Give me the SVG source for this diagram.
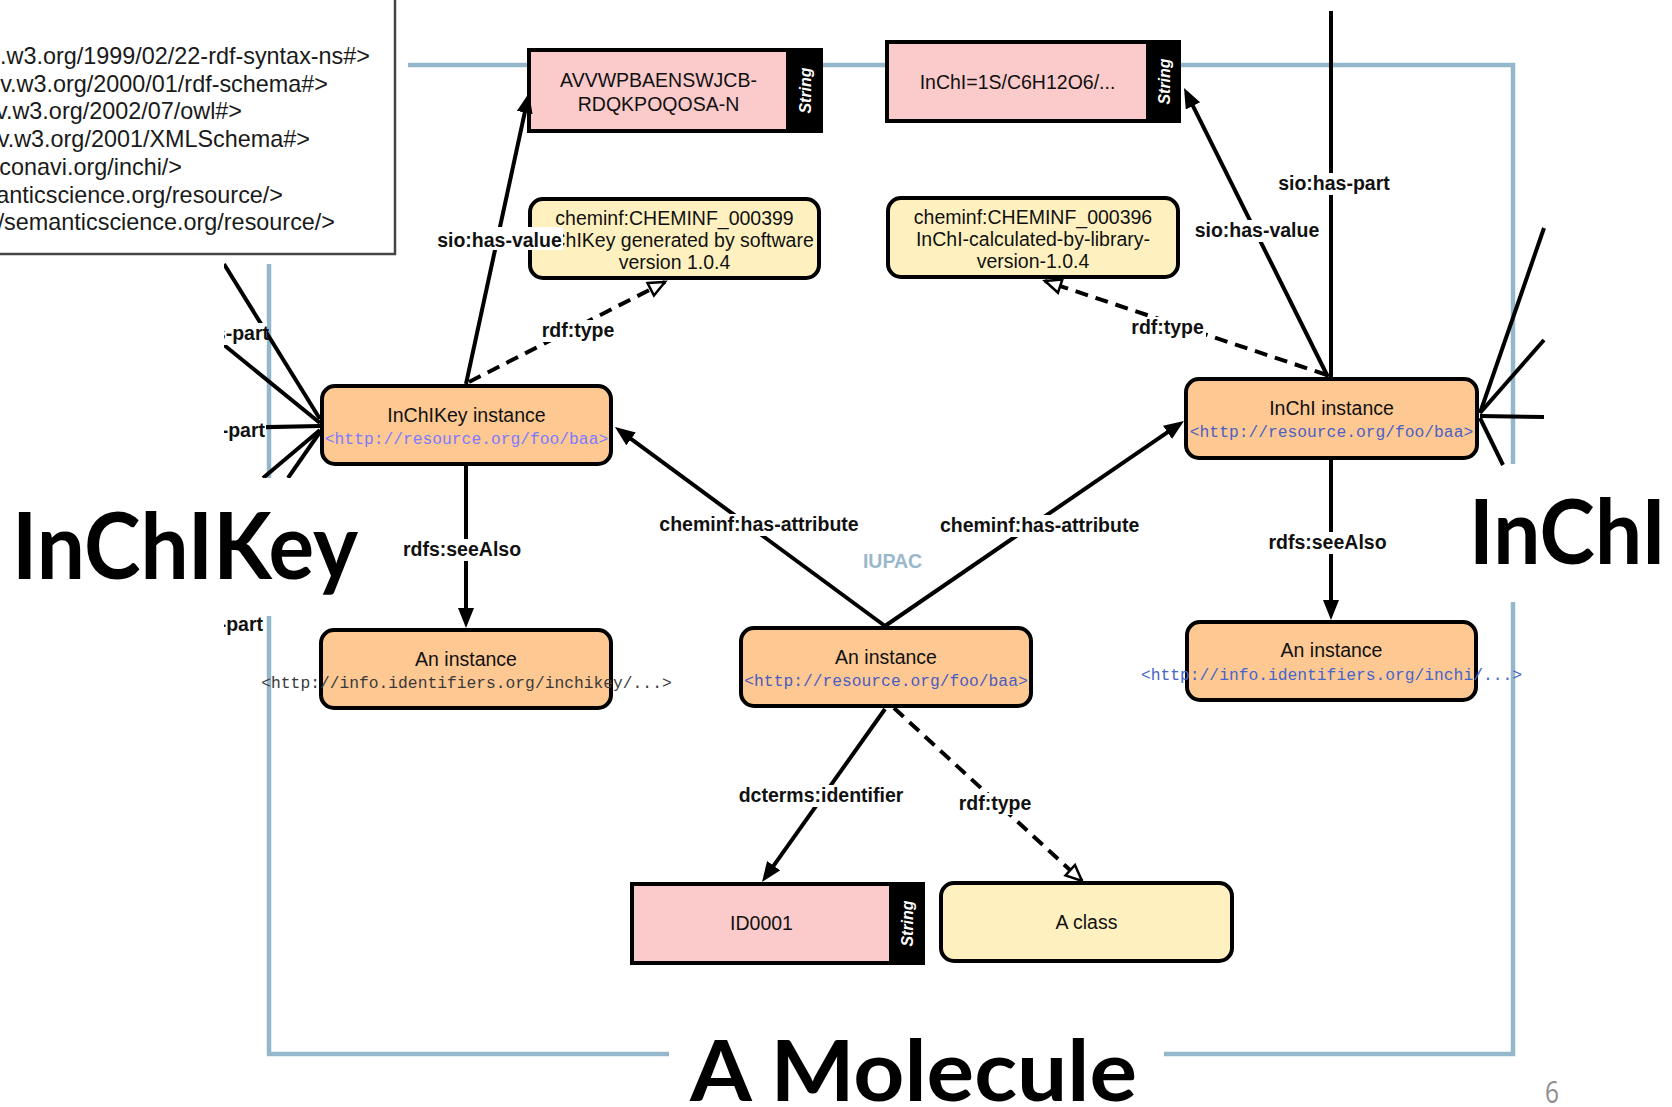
<svg xmlns="http://www.w3.org/2000/svg" width="1672" height="1107" viewBox="0 0 1672 1107">
<style>
.frame{stroke:#95b7cc;stroke-width:4.5;fill:none}
.conn{stroke:#000;stroke-width:4;fill:none}
.dash{stroke-dasharray:13 8}
.inst{fill:#fec892;stroke:#000;stroke-width:4}
.cls{fill:#fff1bf;stroke:#000;stroke-width:4}
.str{fill:#fbcaca}
.tab{font:italic bold 16px "Liberation Sans",Arial,sans-serif;fill:#fff;text-anchor:middle}
.ttl{font:19.5px "Liberation Sans",Arial,sans-serif;fill:#111;text-anchor:middle}
.url{font:16.3px "Liberation Mono","Courier New",monospace;text-anchor:middle}
.lbl{font:bold 19.5px "Liberation Sans",Arial,sans-serif;fill:#111;text-anchor:middle}
.lbg{fill:#fff}
.ns{font:23.4px "Liberation Sans",Arial,sans-serif;fill:#1a1a1a;text-anchor:end}
.big{font-family:Lato,"Open Sans",sans-serif;font-weight:bold;fill:#000}
</style>
<defs>
<marker id="ah" markerUnits="userSpaceOnUse" viewBox="0 0 22 18" markerWidth="22" markerHeight="18" refX="14" refY="8" orient="auto"><path d="M0,0 L20,8 L0,16 z" fill="#000"/></marker>
<marker id="oh" markerUnits="userSpaceOnUse" viewBox="-3 -3 22 20" markerWidth="22" markerHeight="20" refX="16" refY="7" orient="auto"><path d="M0,0 L16,7 L0,14 z" fill="#fff" stroke="#000" stroke-width="2.5"/></marker>
<clipPath id="leftclip"><rect x="224" y="262" width="200" height="216"/><rect x="224" y="600" width="100" height="50"/></clipPath>
</defs>
<rect width="1672" height="1107" fill="#fff"/>

<g id="frame">
<path class="frame" d="M408,65 H1513 V464"/>
<path class="frame" d="M1513,602 V1054 H1164"/>
<path class="frame" d="M669,1054 H269 V616"/>
<path class="frame" d="M269,478 V264"/>
</g>

<g id="titles">
<text class="big" x="12" y="579" font-size="92" textLength="346" lengthAdjust="spacingAndGlyphs">InChIKey</text>
<text class="big" x="1469" y="564" font-size="89" textLength="197" lengthAdjust="spacingAndGlyphs">InChI</text>
<text class="big" x="690" y="1101" font-size="84" textLength="447" lengthAdjust="spacingAndGlyphs">A Molecule</text>
<text x="1545" y="1103" font-family="'Open Sans','Liberation Sans',sans-serif" font-size="31" fill="#8f8f8f" textLength="14" lengthAdjust="spacingAndGlyphs">6</text>
</g>

<g id="namespaces">
<rect x="-3" y="-3" width="398" height="257" fill="#fff" stroke="#444" stroke-width="2.5"/>
<text class="ns" x="370" y="64">.w3.org/1999/02/22-rdf-syntax-ns#&gt;</text>
<text class="ns" x="328" y="91.7">v.w3.org/2000/01/rdf-schema#&gt;</text>
<text class="ns" x="242" y="119.4">v.w3.org/2002/07/owl#&gt;</text>
<text class="ns" x="310" y="147.1">v.w3.org/2001/XMLSchema#&gt;</text>
<text class="ns" x="182" y="174.8">conavi.org/inchi/&gt;</text>
<text class="ns" x="283" y="202.5">anticscience.org/resource/&gt;</text>
<text class="ns" x="335" y="230.2">/semanticscience.org/resource/&gt;</text>
</g>

<g id="n-avvw">
<rect x="527" y="48" width="296" height="85" fill="#000"/>
<rect class="str" x="531" y="52" width="255" height="77"/>
<text class="ttl" x="658.5" y="87">AVVWPBAENSWJCB-</text>
<text class="ttl" x="658.5" y="110.5">RDQKPOQOSA-N</text>
<text class="tab" transform="translate(810.5,90.5) rotate(-90)">String</text>
</g>
<g id="n-inchistr">
<rect x="885" y="40" width="296" height="83" fill="#000"/>
<rect class="str" x="889" y="44" width="257" height="75"/>
<text class="ttl" x="1017.5" y="89">InChI=1S/C6H12O6/...</text>
<text class="tab" transform="translate(1169.5,81.5) rotate(-90)">String</text>
</g>
<g id="n-cheminf399">
<rect class="cls" x="530" y="199" width="289" height="79" rx="13"/>
<text class="ttl" x="674.5" y="225">cheminf:CHEMINF_000399</text>
<text class="ttl" x="674.5" y="247">InChIKey generated by software</text>
<text class="ttl" x="674.5" y="269">version 1.0.4</text>
</g>
<g id="n-cheminf396">
<rect class="cls" x="888" y="198" width="290" height="79" rx="13"/>
<text class="ttl" x="1033" y="224">cheminf:CHEMINF_000396</text>
<text class="ttl" x="1033" y="246">InChI-calculated-by-library-</text>
<text class="ttl" x="1033" y="268">version-1.0.4</text>
</g>
<g id="n-inchikey-inst">
<rect class="inst" x="322" y="386" width="289" height="78" rx="13"/>
<text class="ttl" x="466.5" y="422">InChIKey instance</text>
<text class="url" x="466.5" y="444" fill="#7b7bff">&lt;http://resource.org/foo/baa&gt;</text>
</g>
<g id="n-inchi-inst">
<rect class="inst" x="1186" y="379" width="291" height="79" rx="13"/>
<text class="ttl" x="1331.5" y="415">InChI instance</text>
<text class="url" x="1331.5" y="437" fill="#4b60c4">&lt;http://resource.org/foo/baa&gt;</text>
</g>
<g id="n-left-inst">
<rect class="inst" x="321" y="630" width="290" height="78" rx="13"/>
<text class="ttl" x="466" y="666">An instance</text>
<text class="url" x="466.5" y="688" fill="#3a3a3a">&lt;http://info.identifiers.org/inchikey/...&gt;</text>
</g>
<g id="n-center-inst">
<rect class="inst" x="741" y="628" width="290" height="78" rx="13"/>
<text class="ttl" x="886" y="664">An instance</text>
<text class="url" x="886" y="686" fill="#4a5cc0">&lt;http://resource.org/foo/baa&gt;</text>
</g>
<g id="n-right-inst">
<rect class="inst" x="1187" y="622" width="289" height="78" rx="13"/>
<text class="ttl" x="1331.5" y="657">An instance</text>
<text class="url" x="1331.5" y="680" fill="#4466cc">&lt;http://info.identifiers.org/inchi/...&gt;</text>
</g>
<g id="n-id0001">
<rect x="630" y="882" width="295" height="83" fill="#000"/>
<rect class="str" x="634" y="886" width="255" height="75"/>
<text class="ttl" x="761.5" y="930">ID0001</text>
<text class="tab" transform="translate(913,923.5) rotate(-90)">String</text>
</g>
<g id="n-aclass">
<rect class="cls" x="941" y="883" width="291" height="78" rx="13"/>
<text class="ttl" x="1086.5" y="929">A class</text>
</g>

<g id="connectors">
<g clip-path="url(#leftclip)">
<line class="conn" x1="224" y1="264" x2="320" y2="419"/>
<line class="conn" x1="224" y1="345" x2="320" y2="423"/>
<line class="conn" x1="224" y1="428" x2="320" y2="426"/>
<line class="conn" x1="320" y1="430" x2="263" y2="478"/>
<line class="conn" x1="320" y1="432" x2="288" y2="478"/>
<rect class="lbg" x="224" y="323" width="43" height="22"/>
<text class="lbl" x="269" y="340" style="text-anchor:end">s-part</text>
<rect class="lbg" x="224" y="419" width="42" height="22"/>
<text class="lbl" x="265" y="437" style="text-anchor:end">-part</text>
<text class="lbl" x="263" y="631" style="text-anchor:end">-part</text>
</g>
<line class="conn" x1="1480" y1="413" x2="1544" y2="228"/>
<line class="conn" x1="1480" y1="413" x2="1544" y2="340"/>
<line class="conn" x1="1480" y1="416" x2="1544" y2="417"/>
<line class="conn" x1="1480" y1="418" x2="1503" y2="465"/>

<line class="conn" x1="1331" y1="11" x2="1331" y2="377"/>
<line class="conn" x1="1328" y1="377" x2="1186.7" y2="93.4" marker-end="url(#ah)"/>
<line class="conn dash" x1="1327" y1="375" x2="1045" y2="281" marker-end="url(#oh)"/>
<line class="conn" x1="466" y1="384" x2="527.7" y2="98.9" marker-end="url(#ah)"/>
<line class="conn dash" x1="469" y1="382" x2="665" y2="282" marker-end="url(#oh)"/>
<line class="conn" x1="885" y1="626" x2="619.8" y2="430.6" marker-end="url(#ah)"/>
<line class="conn" x1="885" y1="626" x2="1179" y2="424.4" marker-end="url(#ah)"/>
<line class="conn" x1="466" y1="466" x2="466" y2="622" marker-end="url(#ah)"/>
<line class="conn" x1="1331" y1="460" x2="1331" y2="614" marker-end="url(#ah)"/>
<line class="conn" x1="885" y1="709" x2="765.5" y2="877.1" marker-end="url(#ah)"/>
<line class="conn dash" x1="894" y1="708" x2="1082" y2="881" marker-end="url(#oh)"/>

<rect class="lbg" x="1277" y="173" width="114" height="22"/>
<text class="lbl" x="1334" y="190">sio:has-part</text>
<rect class="lbg" x="1194" y="220" width="127" height="22"/>
<text class="lbl" x="1257" y="237">sio:has-value</text>
<rect class="lbg" x="1129" y="317" width="77" height="22"/>
<text class="lbl" x="1167.6" y="334">rdf:type</text>
<rect class="lbg" x="436" y="227" width="127" height="23"/>
<text class="lbl" x="499.5" y="247">sio:has-value</text>
<rect class="lbg" x="540" y="320" width="76" height="22"/>
<text class="lbl" x="578" y="337">rdf:type</text>
<rect class="lbg" x="658" y="514" width="202" height="22"/>
<text class="lbl" x="759" y="531">cheminf:has-attribute</text>
<rect class="lbg" x="938" y="515" width="203" height="22"/>
<text class="lbl" x="1039.6" y="532">cheminf:has-attribute</text>
<text class="lbl" x="892.5" y="568" style="fill:#9ab8cc" font-size="19">IUPAC</text>
<rect class="lbg" x="402" y="539" width="120" height="22"/>
<text class="lbl" x="462" y="556">rdfs:seeAlso</text>
<rect class="lbg" x="1267" y="532" width="121" height="22"/>
<text class="lbl" x="1327.5" y="549">rdfs:seeAlso</text>
<rect class="lbg" x="737" y="785" width="168" height="22"/>
<text class="lbl" x="821" y="802">dcterms:identifier</text>
<rect class="lbg" x="957" y="793" width="76" height="22"/>
<text class="lbl" x="995" y="810">rdf:type</text>
</g>
</svg>
